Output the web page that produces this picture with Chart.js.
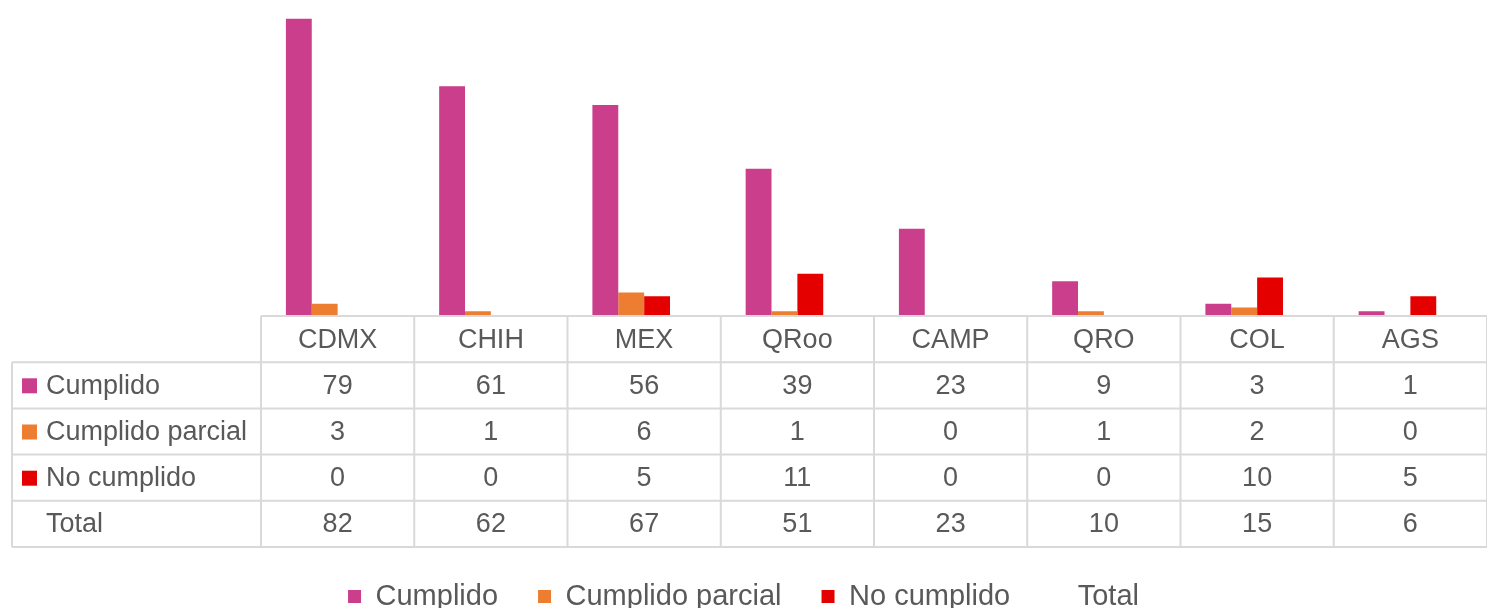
<!DOCTYPE html>
<html>
<head>
<meta charset="utf-8">
<script src="https://cdn.jsdelivr.net/npm/chart.js@4.4.1/dist/chart.umd.min.js"></script>
<style>
    html, body { margin: 0; padding: 0; background: #fff; overflow: hidden; }
    #wrap { width: 1487px; height: 608px; position: relative; }
</style>
</head>
<body>
<div id="wrap"><canvas id="chart"></canvas></div>
<script>
// Data
const estados = ['CDMX', 'CHIH', 'MEX', 'QRoo', 'CAMP', 'QRO', 'COL', 'AGS'];
const cumplido = [79, 61, 56, 39, 23, 9, 3, 1];
const cumplidoParcial = [3, 1, 6, 1, 0, 1, 2, 0];
const noCumplido = [0, 0, 5, 11, 0, 0, 10, 5];
const total = [82, 62, 67, 51, 23, 10, 15, 6];

const textColor = '#595959';
const lineColor = '#d9d9d9';
const fontFamily = "'Liberation Sans', Arial, sans-serif";

// Data table drawn under the plot, aligned to the category scale
const dataTablePlugin = {
    id: 'dataTable',
    afterDraw(chart) {
        const ctx = chart.ctx;
        const xScale = chart.scales.x;
        const area = chart.chartArea;
        const colW = (area.right - area.left) / estados.length;
        const top = area.bottom + 1;
        const rowH = 46.2;
        const left = 12;
        const datasets = chart.data.datasets;
        const bottom = top + rowH * (datasets.length + 1);

        ctx.save();
        ctx.strokeStyle = lineColor;
        ctx.lineWidth = 2;
        ctx.beginPath();
        // header top line (only over the categories)
        ctx.moveTo(area.left, top);
        ctx.lineTo(area.right, top);
        for (let r = 1; r <= datasets.length + 1; r++) {
            const y = top + rowH * r;
            ctx.moveTo(left, y);
            ctx.lineTo(area.right, y);
        }
        ctx.moveTo(left, top + rowH);
        ctx.lineTo(left, bottom);
        for (let i = 0; i <= estados.length; i++) {
            const x = area.left + colW * i;
            ctx.moveTo(x, top);
            ctx.lineTo(x, bottom);
        }
        ctx.stroke();

        ctx.font = '27px ' + fontFamily;
        ctx.fillStyle = textColor;
        ctx.textBaseline = 'middle';
        ctx.textAlign = 'center';
        estados.forEach(function (name, i) {
            ctx.fillText(name, xScale.getPixelForValue(i), top + rowH / 2 + 1);
        });

        datasets.forEach(function (ds, r) {
            const yMid = top + rowH * (r + 1.5) + 1;
            ctx.textAlign = 'center';
            ctx.fillStyle = textColor;
            ds.data.forEach(function (v, i) {
                ctx.fillText(String(v), xScale.getPixelForValue(i), yMid);
            });
            if (ds.showKey) {
                ctx.fillStyle = ds.backgroundColor;
                ctx.fillRect(22, yMid - 8, 15, 15);
            }
            ctx.fillStyle = textColor;
            ctx.textAlign = 'left';
            ctx.fillText(ds.label, 46, yMid);
        });
        ctx.restore();
    }
};

const ctx = document.getElementById('chart').getContext('2d');
new Chart(ctx, {
    type: 'bar',
    data: {
        labels: estados,
        datasets: [
            {
                label: 'Cumplido',
                data: cumplido,
                backgroundColor: '#cb3e8b',
                showKey: true
            },
            {
                label: 'Cumplido parcial',
                data: cumplidoParcial,
                backgroundColor: '#ed7d31',
                showKey: true
            },
            {
                label: 'No cumplido',
                data: noCumplido,
                backgroundColor: '#e50000',
                showKey: true
            },
            {
                label: 'Total',
                data: total,
                backgroundColor: 'rgba(0,0,0,0)',
                showKey: false
            }
        ]
    },
    options: {
        responsive: true,
        maintainAspectRatio: false,
        animation: false,
        events: [],
        layout: {
            padding: { top: 15, left: 0, right: 0, bottom: -13 }
        },
        datasets: {
            bar: {
                barPercentage: 1,
                categoryPercentage: 0.675
            }
        },
        scales: {
            x: {
                grid: { display: false },
                border: { display: false },
                ticks: { display: false },
                afterFit: function (scale) {
                    scale.height = 227;
                }
            },
            y: {
                min: 0,
                max: 80,
                grid: { display: false },
                border: { display: false },
                ticks: { display: false },
                // room for the row labels of the table
                afterFit: function (scale) {
                    scale.width = 261;
                }
            }
        },
        plugins: {
            legend: {
                position: 'bottom',
                labels: {
                    boxWidth: 13,
                    boxHeight: 13,
                    padding: 40,
                    color: textColor,
                    font: { size: 29, family: fontFamily }
                }
            },
            tooltip: { enabled: false }
        }
    },
    plugins: [dataTablePlugin]
});
</script>
</body>
</html>
